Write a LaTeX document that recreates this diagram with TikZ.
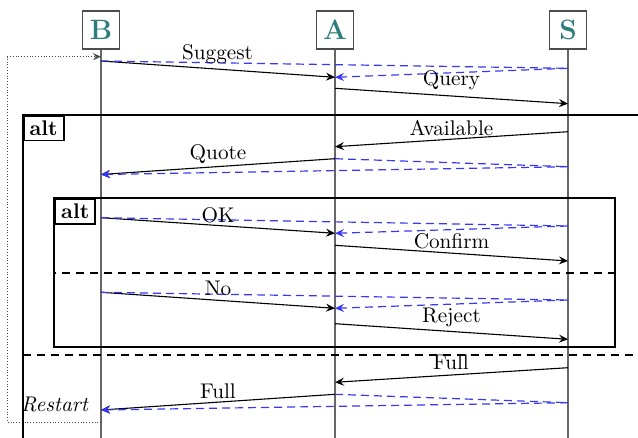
\documentclass[tikz,border=0pt]{standalone}
\usetikzlibrary{arrows.meta}
\definecolor{hdr}{RGB}{45,125,125}
\definecolor{cblue}{RGB}{55,55,245}
\begin{document}
\begin{tikzpicture}[x=0.5pt,y=-0.5pt, font=\fontsize{10.6}{12.5}\selectfont,
  hdrbox/.style={draw=black!70, line width=0.6pt, minimum width=18.5pt, minimum height=19pt, inner sep=0pt, text=hdr, font=\fontsize{14}{16}\selectfont\bfseries},
  life/.style={draw=black!60, line width=0.55pt},
  msg/.style={draw=black, line width=0.55pt, -{Stealth[length=4.5pt,width=4pt,inset=1.6pt]}},
  causal/.style={draw=cblue, line width=0.6pt, dash pattern=on 4pt off 2.5pt},
  causalarr/.style={causal, -{Stealth[length=4.5pt,width=4pt,inset=1.6pt,sep=0pt]}},
  lbl/.style={anchor=base, inner sep=0pt},
  frame/.style={draw=black, line width=1pt},
  sep/.style={draw=black, line width=0.9pt, dash pattern=on 4pt off 3pt},
  altlbl/.style={draw=black, line width=0.9pt, anchor=north west, minimum width=20pt, minimum height=12.3pt, inner sep=0pt, font=\fontsize{10.6}{12.5}\selectfont\bfseries},
  loopline/.style={draw=black!70, line width=0.4pt, densely dotted}
]
\useasboundingbox (0,0) rectangle (638,438);

% headers and lifelines
\node[hdrbox] (hB) at (101,30) {B};
\node[hdrbox] (hA) at (335,30) {A};
\node[hdrbox] (hS) at (568,30) {S};
\coordinate (eB) at (101,440);
\coordinate (eA) at (335,440);
\coordinate (eS) at (568,440);
\draw[life] (hB.south) -- (eB);
\draw[life] (hA.south) -- (eA);
\draw[life] (hS.south) -- (eS);

% restart loop
\coordinate (d1) at (101,422.3);
\coordinate (d2) at (7.3,422.3);
\coordinate (d3) at (7.3,56.7);
\coordinate (d4) at (101,56.7);
\draw[loopline, -{Stealth[length=4pt,width=3.6pt,inset=1.4pt]}] (d1) -- (d2) -- (d3) -- (d4);

% frames
\coordinate (f1) at (640,115);
\coordinate (f2) at (22.7,115);
\coordinate (f3) at (22.7,440);
\draw[frame] (f1) -- (f2) -- (f3);
\node[altlbl] (alt1) at (22.7,115) {alt};
\draw[frame] (54.3,198.3) rectangle (615,347.3);
\node[altlbl] (alt2) at (54.3,198.3) {alt};
\coordinate (s1a) at (22.7,355.3);
\coordinate (s1b) at (640,355.3);
\draw[sep] (s1a) -- (s1b);
\coordinate (s2a) at (54.3,273);
\coordinate (s2b) at (615,273);
\draw[sep, dash phase=3pt] (s2a) -- (s2b);

% events
\coordinate (B1) at (101,61);   \coordinate (A1) at (335,77.3);  \coordinate (S1) at (568,68.3);
\coordinate (A2) at (335,88.3); \coordinate (S2) at (568,103.7);
\coordinate (S3) at (568,131.7);\coordinate (A3) at (335,146.7);
\coordinate (A4) at (335,158.7);\coordinate (B4) at (101,174.5); \coordinate (S4) at (568,166.7);
\coordinate (B5) at (101,217.7);\coordinate (A5) at (335,233.3); \coordinate (S5) at (568,226);
\coordinate (A6) at (335,245.3);\coordinate (S6) at (568,261);
\coordinate (B7) at (101,292.3);\coordinate (A7) at (335,308.3); \coordinate (S7) at (568,300);
\coordinate (A8) at (335,323.7);\coordinate (S8) at (568,339.3);
\coordinate (S9) at (568,367.7);\coordinate (A9) at (335,382.3);
\coordinate (A10) at (335,394.3);\coordinate (B10) at (101,410); \coordinate (S10) at (568,402.7);

% messages
\draw[msg] (B1) -- (A1);
\draw[msg] (A2) -- (S2);
\draw[msg] (S3) -- (A3);
\draw[msg] (A4) -- (B4);
\draw[msg] (B5) -- (A5);
\draw[msg] (A6) -- (S6);
\draw[msg] (B7) -- (A7);
\draw[msg] (A8) -- (S8);
\draw[msg] (S9) -- (A9);
\draw[msg] (A10) -- (B10);

% causal (blue dashed)
\draw[causal] (B1) -- (S1);
\draw[causalarr] (S1) -- (A1);
\draw[causal] (A4) -- (S4);
\draw[causalarr] (S4) -- (B4);
\draw[causal] (B5) -- (S5);
\draw[causalarr] (S5) -- (A5);
\draw[causal] (B7) -- (S7);
\draw[causalarr] (S7) -- (A7);
\draw[causal] (A10) -- (S10);
\draw[causalarr] (S10) -- (B10);

% labels
\node[lbl] (lSuggest) at (217.5,59.5) {Suggest};
\node[lbl] (lQuery) at (451.5,86) {Query};
\node[lbl] (lAvail) at (451.5,136) {Available};
\node[lbl] (lQuote) at (218,159.3) {Quote};
\node[lbl] (lOK) at (218,223) {OK};
\node[lbl] (lConfirm) at (451.5,248.3) {Confirm};
\node[lbl] (lNo) at (218,296) {No};
\node[lbl] (lReject) at (451.5,322.7) {Reject};
\node[lbl] (lFull1) at (451,370) {Full};
\node[lbl] (lFull2) at (218,398.3) {Full};
\node[lbl, font=\fontsize{10.6}{12.5}\selectfont\itshape] (lRestart) at (54.5,412) {Restart};
\end{tikzpicture}
\end{document}
